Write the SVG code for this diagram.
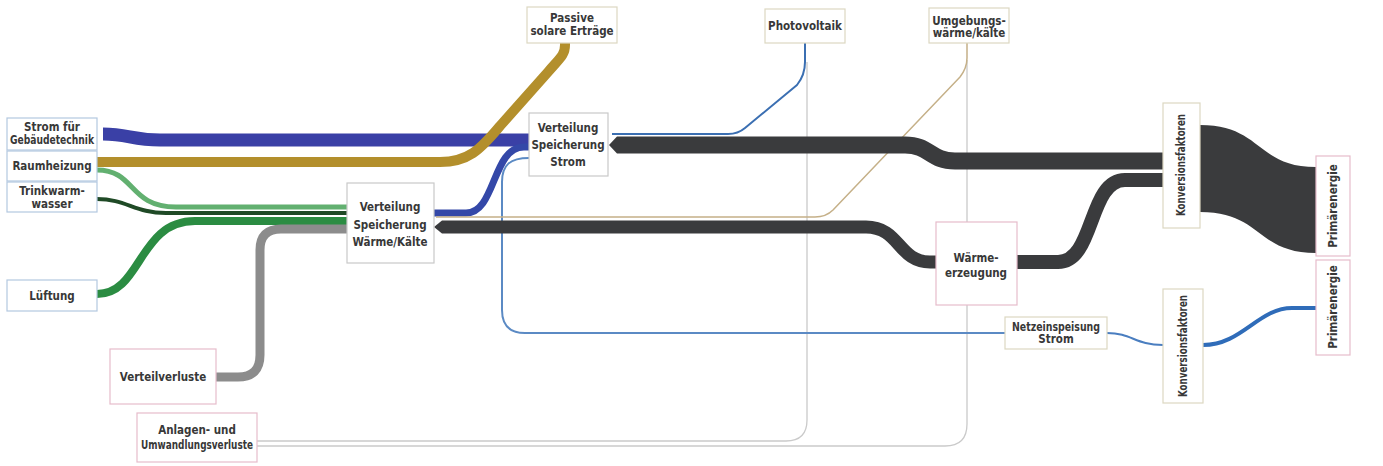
<svg xmlns="http://www.w3.org/2000/svg" width="1383" height="466" viewBox="0 0 1383 466">
<style>
.box{fill:#fff;stroke-width:1.2}
.bl{stroke:#b3c8e0}
.gr{stroke:#c9c9c9}
.pk{stroke:#e6bccb}
.be{stroke:#dcd8c2}
text{font-family:"Liberation Sans Narrow","DejaVu Sans Condensed",sans-serif;font-weight:bold;font-size:11.5px;fill:#383838;text-anchor:middle}
.f{fill:none;stroke-linecap:butt;stroke-linejoin:round}
.dk{stroke:#3a3b3d}
</style>
<rect width="1383" height="466" fill="#fff"/>
<g id="connectors">
  <path class="f" d="M807,62 V420 Q807,441 786,441 H257" stroke="#cacaca" stroke-width="1.3"/>
  <path class="f" d="M967,60 V424 Q967,446 945,446 H257" stroke="#cacaca" stroke-width="1.3"/>
  <path class="f" d="M529,158 C510,158 502,165 502,182 V310 Q502,333 525,333 H1005" stroke="#5b8ac4" stroke-width="2"/>
  <path class="f" d="M1107,333 C1132,333 1135,345 1163,345" stroke="#4a7ec0" stroke-width="2"/>
  <path class="f" d="M1203,345 C1242,345 1258,308 1292,308 H1316" stroke="#2f6cb9" stroke-width="4"/>
  <path class="f" d="M805,43 V62 Q805,75 797,85 L745,128 Q738,134 728,134 H612" stroke="#3b6fb2" stroke-width="2"/>
  <path class="f" d="M103,134 C128,134 132,140 160,140 H529" stroke="#3a40a6" stroke-width="13" stroke-linecap="round"/>
  <path class="f" d="M97,162 H440 C468,162 480,150 500,126 L548,72 C560,58 565,55 565,45 V43" stroke="#b38f2c" stroke-width="10"/>
  <path class="f" d="M97,170 C136,170 128,207 176,207 H347" stroke="#62b070" stroke-width="5"/>
  <path class="f" d="M97,199 C126,199 135,213 166,213 H347" stroke="#1f4a26" stroke-width="4"/>
  <path class="f" d="M97,294 C142,294 138,221 195,221 H347" stroke="#2b8c42" stroke-width="8"/>
  <path class="f" d="M216,377 H238 Q260,377 260,355 V250 Q260,229 281,229 H347" stroke="#8c8c8c" stroke-width="9"/>
  <path class="f" d="M434,213 H466 C496,213 492,147 524,147 H529" stroke="#3448a8" stroke-width="7"/>
  <path class="f" d="M967,43 V58 Q967,68 960,77 L833,210 Q826,217 815,217 H436" stroke="#c5b088" stroke-width="1.5"/>
  <path class="f dk" d="M617,145 H905 C930,145 930,161 955,161 H1163" stroke-width="17"/>
  <polygon points="609,145 617,136.5 617,153.5" fill="#3a3b3d"/>
  <path class="f dk" d="M442,227 H866 C900,227 898,262 930,262 H936" stroke-width="13"/>
  <polygon points="434,227 442,220.5 442,233.5" fill="#3a3b3d"/>
  <path class="f dk" d="M1017,262 H1058 C1095,262 1088,180 1125,180 H1163" stroke-width="14"/>
  <path d="M1200,125 C1262,125 1256,167 1316,167 V253 C1256,253 1262,212 1200,212 Z" fill="#3a3b3d"/>
</g>
<g id="strom-gebaeudetechnik"><rect class="box bl" x="7" y="118" width="90" height="32"/><text x="52" y="131">Strom für</text><text x="52" y="144" textLength="84" lengthAdjust="spacingAndGlyphs">Gebäudetechnik</text></g>
<g id="raumheizung"><rect class="box bl" x="7" y="151" width="90" height="30"/><text x="52" y="170">Raumheizung</text></g>
<g id="trinkwarmwasser"><rect class="box bl" x="7" y="182" width="90" height="30"/><text x="52" y="195">Trinkwarm-</text><text x="52" y="208">wasser</text></g>
<g id="lueftung"><rect class="box bl" x="7" y="280" width="90" height="31"/><text x="52" y="300">Lüftung</text></g>
<g id="verteilverluste"><rect class="box pk" x="110" y="349" width="106" height="55"/><text x="163" y="381">Verteilverluste</text></g>
<g id="anlagenverluste"><rect class="box pk" x="137" y="413" width="120" height="49"/><text x="197" y="434">Anlagen- und</text><text x="197" y="449" textLength="112" lengthAdjust="spacingAndGlyphs">Umwandlungsverluste</text></g>
<g id="verteilung-waerme"><rect class="box gr" x="347" y="183" width="87" height="80"/><text x="390" y="211">Verteilung</text><text x="390" y="229">Speicherung</text><text x="390" y="246">Wärme/Kälte</text></g>
<g id="verteilung-strom"><rect class="box gr" x="529" y="113" width="79" height="63"/><text x="568" y="132">Verteilung</text><text x="568" y="149">Speicherung</text><text x="568" y="166">Strom</text></g>
<g id="passive-solar"><rect class="box be" x="527" y="7" width="90" height="36"/><text x="572" y="22">Passive</text><text x="572" y="35">solare Erträge</text></g>
<g id="photovoltaik"><rect class="box be" x="765" y="9" width="80" height="34"/><text x="805" y="30">Photovoltaik</text></g>
<g id="umgebungswaerme"><rect class="box be" x="929" y="8" width="80" height="35"/><text x="969" y="25">Umgebungs-</text><text x="969" y="37">wärme/kälte</text></g>
<g id="waermeerzeugung"><rect class="box pk" x="936" y="222" width="81" height="83"/><text x="976" y="262">Wärme-</text><text x="976" y="277">erzeugung</text></g>
<g id="netzeinspeisung"><rect class="box be" x="1005" y="317" width="102" height="32"/><text x="1056" y="331" textLength="88" lengthAdjust="spacingAndGlyphs">Netzeinspeisung</text><text x="1056" y="343">Strom</text></g>
<g id="konversion-1"><rect class="box be" x="1163" y="103" width="37" height="125"/><text transform="translate(1185,165) rotate(-90)" textLength="102" lengthAdjust="spacingAndGlyphs">Konversionsfaktoren</text></g>
<g id="konversion-2"><rect class="box be" x="1163" y="289" width="40" height="114"/><text transform="translate(1187,346) rotate(-90)" textLength="102" lengthAdjust="spacingAndGlyphs">Konversionsfaktoren</text></g>
<g id="primaerenergie-1"><rect class="box pk" x="1316" y="156" width="34" height="100"/><text transform="translate(1337,206) rotate(-90)">Primärenergie</text></g>
<g id="primaerenergie-2"><rect class="box pk" x="1316" y="260" width="34" height="95"/><text transform="translate(1337,307) rotate(-90)">Primärenergie</text></g>
</svg>
